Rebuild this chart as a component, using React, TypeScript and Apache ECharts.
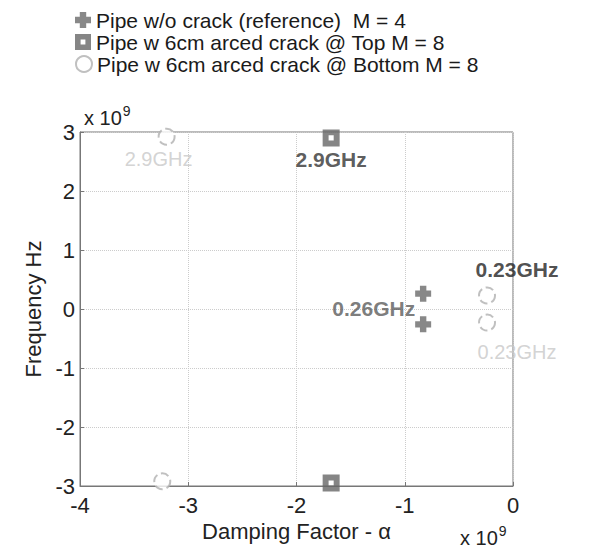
import React, { useEffect, useRef } from "react";
import * as echarts from "echarts";

const seriesNames = [
  "Pipe w/o crack (reference)  M = 4",
  "Pipe w 6cm arced crack @ Top M = 8",
  "Pipe w 6cm arced crack @ Bottom M = 8",
];
// damping factor (x 1e9), frequency (x 1e9)
const refAlpha = [-0.83, -0.83];
const refFreq = [0.26, -0.26];
const topAlpha = [-1.68, -1.68];
const topFreq = [2.9, -2.95];
const botAlpha = [-3.2, -3.24, -0.24, -0.24];
const botFreq = [2.92, -2.92, 0.23, -0.23];
const refLabels = ["0.26GHz", ""];
const topLabels = ["2.9GHz", ""];
const botLabels = ["2.9GHz", "", "0.23GHz", "0.23GHz"];
const xTicks = [-4, -3, -2, -1, 0];
const yTicks = [-3, -2, -1, 0, 1, 2, 3];

const FONT = "Liberation Sans, Arial, sans-serif";
const PLUS = "path://M3,0H7V3H10V7H7V10H3V7H0V3H3Z";
const SQUARE = "path://M0,0H10V10H0Z M3.5,3.5V6.5H6.5V3.5Z";
const legendCenters = [20, 42, 64];

export default function App() {
  const ref = useRef<HTMLDivElement>(null);
  useEffect(() => {
    document.body.style.margin = "0";
    const chart = echarts.init(ref.current!, null, { renderer: "svg" });
    const lbl = (text: string, cfg: any) =>
      text
        ? { show: true, formatter: text, fontFamily: FONT, ...cfg }
        : { show: false };
    const sup = (left: number, top: number) => ({
      type: "text",
      left,
      top,
      style: {
        text: "{a|x 10}{b|9}",
        rich: {
          a: { fontSize: 20, fontFamily: FONT, fill: "#222", verticalAlign: "bottom", lineHeight: 24 },
          b: { fontSize: 14, fontFamily: FONT, fill: "#222", verticalAlign: "top", lineHeight: 24, padding: [0, 0, 12, 1] },
        },
      },
    });
    chart.setOption({
      animation: false,
      backgroundColor: "#fff",
      textStyle: { fontFamily: FONT },
      legend: seriesNames.map((n, i) => ({
        orient: "vertical",
        left: 75,
        top: legendCenters[i] - 11,
        padding: 0,
        itemWidth: 16,
        itemHeight: 16,
        textStyle: { fontSize: 21, lineHeight: 22, color: "#1a1a1a", fontFamily: FONT },
        data: [n],
      })),
      grid: {
        left: 80,
        right: 82,
        top: 132,
        bottom: 68,
        show: true,
        borderColor: "#777",
        borderWidth: 1,
      },
      xAxis: {
        type: "value",
        min: xTicks[0],
        max: xTicks[xTicks.length - 1],
        interval: 1,
        name: "Damping Factor - α",
        nameLocation: "middle",
        nameGap: 30,
        nameTextStyle: { fontSize: 22, color: "#222", fontFamily: FONT },
        axisLine: { show: true, onZero: false, lineStyle: { color: "#777" } },
        axisTick: { show: true, inside: true, length: 4, lineStyle: { color: "#777" } },
        axisLabel: { fontSize: 22, color: "#222", margin: 8, fontFamily: FONT },
        splitLine: { show: true, lineStyle: { color: "#ccc", type: "dotted" } },
      },
      yAxis: {
        type: "value",
        min: yTicks[0],
        max: yTicks[yTicks.length - 1],
        interval: 1,
        name: "Frequency Hz",
        nameLocation: "middle",
        nameRotate: 90,
        nameGap: 30,
        nameTextStyle: { fontSize: 22, color: "#222", fontFamily: FONT },
        axisLine: { show: true, onZero: false, lineStyle: { color: "#777" } },
        axisTick: { show: true, inside: true, length: 4, lineStyle: { color: "#777" } },
        axisLabel: { fontSize: 22, color: "#222", margin: 5, fontFamily: FONT },
        splitLine: { show: true, lineStyle: { color: "#ccc", type: "dotted" } },
      },
      graphic: [sup(84, 104), sup(460, 524)],
      series: [
        {
          name: seriesNames[0],
          type: "scatter",
          symbol: PLUS,
          symbolSize: 16,
          itemStyle: { color: "#6a6a6a" },
          z: 3,
          data: refAlpha.map((a, i) => ({
            value: [a, refFreq[i]],
            label: lbl(refLabels[i], {
              position: "left",
              distance: 0,
              offset: [0, 15],
              fontSize: 21,
              fontWeight: "bold",
              color: "#5a5a5a",
            }),
          })),
        },
        {
          name: seriesNames[1],
          type: "scatter",
          symbol: SQUARE,
          symbolSize: 17,
          itemStyle: { color: "#666" },
          z: 3,
          data: topAlpha.map((a, i) => ({
            value: [a, topFreq[i]],
            label: lbl(topLabels[i], {
              position: "bottom",
              distance: 3,
              fontSize: 21,
              fontWeight: "bold",
              color: "#333",
            }),
          })),
        },
        {
          name: seriesNames[2],
          type: "scatter",
          symbol: "circle",
          symbolSize: 16,
          itemStyle: {
            color: "#fff",
            borderColor: "#b0b0b0",
            borderWidth: 2,
            borderType: "dashed",
          },
          z: 3,
          data: botAlpha.map((a, i) => ({
            value: [a, botFreq[i]],
            label: lbl(
              botLabels[i],
              i === 0
                ? { position: "bottom", distance: 3, offset: [-8, 0], fontSize: 20, color: "#c8c8c8" }
                : i === 2
                ? { position: "top", distance: 6, offset: [30, 0], fontSize: 21, fontWeight: "bold", color: "#222" }
                : { position: "bottom", distance: 10, offset: [30, 0], fontSize: 20, color: "#c8c8c8" }
            ),
          })),
        },
      ],
    });
    return () => chart.dispose();
  }, []);
  return <div ref={ref} style={{ width: 595, height: 554 }} />;
}
